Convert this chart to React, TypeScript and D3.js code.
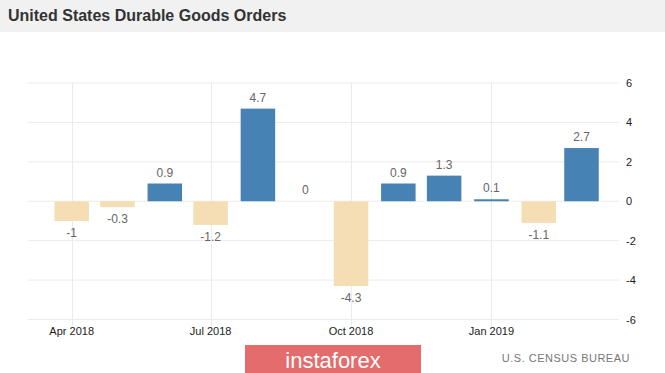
import React from 'react';
import * as d3 from 'd3';

const months = ['2018-04', '2018-05', '2018-06', '2018-07', '2018-08', '2018-09', '2018-10', '2018-11', '2018-12', '2019-01', '2019-02', '2019-03'];
const values = [-1, -0.3, 0.9, -1.2, 4.7, 0, -4.3, 0.9, 1.3, 0.1, -1.1, 2.7];
const xTickMonths = ['2018-04', '2018-07', '2018-10', '2019-01'];
const yTicks = [6, 4, 2, 0, -2, -4, -6];

const W = 665;
const H = 373;
const parse = d3.utcParse('%Y-%m');
const fmt = d3.utcFormat('%b %Y');

const App: React.FC = () => {
  const x = d3.scaleUtc()
    .domain([parse('2018-04')!, parse('2019-03')!])
    .range([71.7, 581.5]);
  const y = d3.scaleLinear().domain([-6, 6]).range([319.5, 83]);
  const barW = 34.5;
  const gridLeft = 28;
  const gridRight = 619;
  const font = '"Liberation Sans", Arial, sans-serif';

  return (
    <svg width={W} height={H} style={{ position: 'absolute', left: 0, top: 0, background: '#fff' }}>
      {/* title bar */}
      <rect x={0} y={0} width={W} height={32} fill="#f1f1f1" />
      <text x={8} y={21} fontFamily={font} fontWeight="bold" fontSize={16} fill="#333">
        United States Durable Goods Orders
      </text>

      {/* grid */}
      {yTicks.map(t => (
        <line key={'h' + t} x1={gridLeft} x2={gridRight} y1={y(t)} y2={y(t)} stroke="#ebebeb" />
      ))}
      {xTickMonths.map(m => {
        const xx = Math.round(x(parse(m)!)) + 0.5;
        return <line key={'v' + m} x1={xx} x2={xx} y1={y(6)} y2={326} stroke="#ebebeb" />;
      })}

      {/* bars */}
      {values.map((v, i) => {
        const cx = x(parse(months[i])!);
        const y0 = y(0);
        const yv = y(v);
        return (
          <rect
            key={months[i]}
            x={cx - barW / 2}
            y={Math.min(y0, yv)}
            width={barW}
            height={Math.abs(yv - y0)}
            fill={v >= 0 ? '#4682b4' : '#f5deb3'}
          />
        );
      })}

      {/* value labels */}
      {values.map((v, i) => {
        const cx = x(parse(months[i])!);
        const ty = v >= 0 ? y(v) - 7 : y(v) + 16;
        return (
          <text key={'l' + months[i]} x={cx} y={ty} textAnchor="middle" fontFamily={font} fontSize={12} fill="#666">
            {String(v)}
          </text>
        );
      })}

      {/* y axis labels */}
      {yTicks.map(t => (
        <text key={'yt' + t} x={626} y={y(t) + 4} fontFamily={font} fontSize={11} fill="#222">
          {String(t)}
        </text>
      ))}

      {/* x axis labels */}
      {xTickMonths.map(m => (
        <text key={'xt' + m} x={x(parse(m)!)} y={335} textAnchor="middle" fontFamily={font} fontSize={11} fill="#222">
          {fmt(parse(m)!)}
        </text>
      ))}

      {/* source */}
      <text x={630} y={362} textAnchor="end" fontFamily={font} fontSize={11} fill="#777" letterSpacing={0.5}>
        U.S. CENSUS BUREAU
      </text>

      {/* watermark */}
      <rect x={245} y={345} width={176} height={28} fill="#e46c6c" />
      <text x={333} y={368} textAnchor="middle" fontFamily={font} fontSize={22} fill="#fff">
        instaforex
      </text>
    </svg>
  );
};

export default App;
